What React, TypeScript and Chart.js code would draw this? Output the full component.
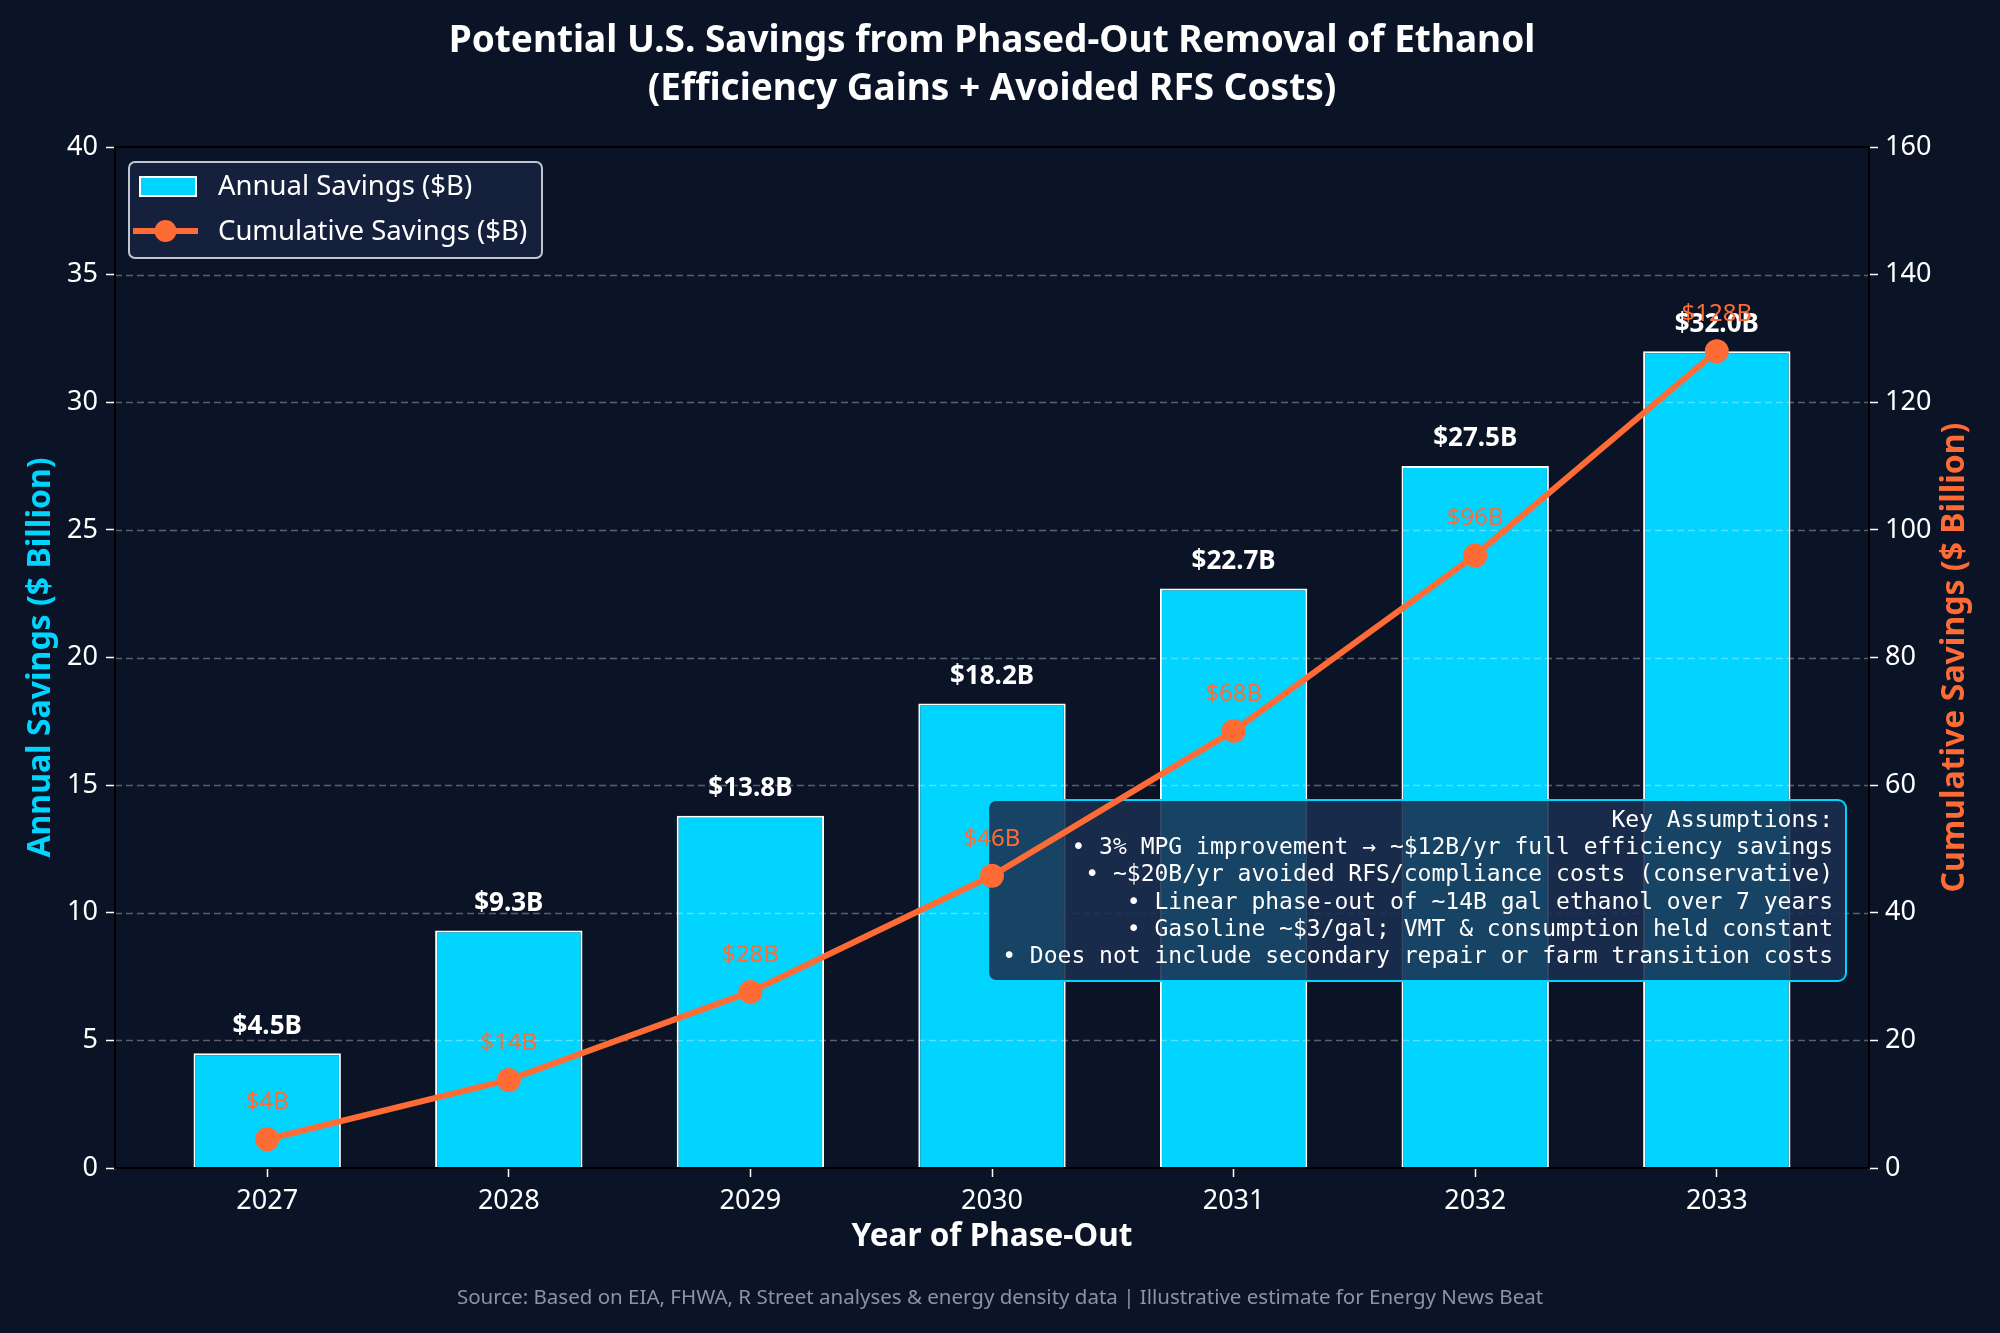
import { useEffect, useRef } from 'react';
import { Chart, registerables } from 'chart.js';

Chart.register(...registerables);

const W = 2000;
const H = 1333;
const BG = '#0b1426';
const CYAN = '#00d4ff';
const ORANGE = '#ff6b35';
const GRID = 'rgba(255,255,255,0.32)';
const FONT = '"Noto Sans", Lato, sans-serif';
const MONO = '"DejaVu Sans Mono", monospace';

const years = ['2027', '2028', '2029', '2030', '2031', '2032', '2033'];
const annualSavings = [4.5, 9.3, 13.8, 18.2, 22.7, 27.5, 32.0];
const cumulativeSavings = [4.5, 13.8, 27.6, 45.8, 68.5, 96.0, 128.0];
const cumulativeLabels = ['$4B', '$14B', '$28B', '$46B', '$68B', '$96B', '$128B'];
const assumptions = [
  'Key Assumptions:',
  '• 3% MPG improvement → ~$12B/yr full efficiency savings',
  '• ~$20B/yr avoided RFS/compliance costs (conservative)',
  '• Linear phase-out of ~14B gal ethanol over 7 years',
  '• Gasoline ~$3/gal; VMT & consumption held constant',
  '• Does not include secondary repair or farm transition costs',
];

const decorPlugin = {
  id: 'decor',
  beforeDraw(chart: any) {
    const { ctx } = chart;
    ctx.save();
    ctx.fillStyle = BG;
    ctx.fillRect(0, 0, chart.width, chart.height);
    ctx.restore();
  },
  afterDatasetDraw(chart: any, args: any) {
    if (args.meta.type !== 'bar') return;
    const { ctx, chartArea: a } = chart;
    const y = chart.scales.y;

    // dashed grid, drawn over the bars
    ctx.save();
    ctx.setLineDash([7, 4]);
    ctx.strokeStyle = GRID;
    ctx.lineWidth = 1.3;
    y.ticks.forEach((t: any) => {
      if (t.value <= y.min || t.value >= y.max) return;
      const py = Math.round(y.getPixelForValue(t.value)) + 0.5;
      ctx.beginPath();
      ctx.moveTo(a.left, py);
      ctx.lineTo(a.right, py);
      ctx.stroke();
    });
    ctx.restore();

    // bar value labels
    ctx.save();
    ctx.fillStyle = '#ffffff';
    ctx.font = `bold 26px ${FONT}`;
    ctx.textAlign = 'center';
    ctx.textBaseline = 'middle';
    args.meta.data.forEach((bar: any, i: number) => {
      ctx.fillText(`$${annualSavings[i].toFixed(1)}B`, bar.x, bar.y - 27);
    });
    ctx.restore();

    // assumptions box
    ctx.save();
    ctx.font = `23px ${MONO}`;
    const maxW = Math.max(...assumptions.map((s) => ctx.measureText(s).width));
    const textRight = a.right - 36;
    const bx = textRight - maxW - 14;
    const by = 800;
    const bw = a.right - 23 - bx;
    const bh = 181;
    ctx.beginPath();
    ctx.roundRect(bx, by, bw, bh, 8);
    ctx.fillStyle = 'rgba(26,47,80,0.88)';
    ctx.fill();
    ctx.lineWidth = 2;
    ctx.strokeStyle = CYAN;
    ctx.stroke();
    ctx.fillStyle = '#ffffff';
    ctx.textAlign = 'right';
    ctx.textBaseline = 'middle';
    assumptions.forEach((s, i) => {
      ctx.fillText(s, textRight, 821 + i * 27.2);
    });
    ctx.restore();
  },
  afterDatasetsDraw(chart: any) {
    const { ctx, chartArea: a } = chart;
    const lineMeta = chart.getDatasetMeta(1);

    // cumulative labels
    ctx.save();
    ctx.fillStyle = ORANGE;
    ctx.font = `24px ${FONT}`;
    ctx.textAlign = 'center';
    ctx.textBaseline = 'middle';
    lineMeta.data.forEach((pt: any, i: number) => {
      ctx.fillText(cumulativeLabels[i], pt.x, pt.y - 37);
    });
    ctx.restore();

    // spines
    ctx.save();
    ctx.strokeStyle = '#000000';
    ctx.lineWidth = 2;
    ctx.strokeRect(a.left, a.top, a.right - a.left, a.bottom - a.top);
    ctx.restore();

    // legend
    ctx.save();
    ctx.beginPath();
    ctx.roundRect(129, 162, 413, 96, 6);
    ctx.fillStyle = 'rgba(22,33,62,0.94)';
    ctx.fill();
    ctx.lineWidth = 2;
    ctx.strokeStyle = 'rgba(225,228,235,0.85)';
    ctx.stroke();
    ctx.fillStyle = CYAN;
    ctx.fillRect(140, 177, 56, 19);
    ctx.strokeStyle = '#ffffff';
    ctx.lineWidth = 2;
    ctx.strokeRect(140, 177, 56, 19);
    ctx.strokeStyle = ORANGE;
    ctx.lineWidth = 6;
    ctx.beginPath();
    ctx.moveTo(133, 231);
    ctx.lineTo(198, 231);
    ctx.stroke();
    ctx.fillStyle = ORANGE;
    ctx.beginPath();
    ctx.arc(165.5, 231, 11, 0, Math.PI * 2);
    ctx.fill();
    ctx.fillStyle = '#ffffff';
    ctx.font = `27.5px ${FONT}`;
    ctx.textAlign = 'left';
    ctx.textBaseline = 'middle';
    ctx.fillText('Annual Savings ($B)', 218, 187);
    ctx.fillText('Cumulative Savings ($B)', 218, 232);
    ctx.restore();
  },
  afterDraw(chart: any) {
    const { ctx, chartArea: a } = chart;
    const cx = (a.left + a.right) / 2;
    const cy = (a.top + a.bottom) / 2;
    ctx.save();
    ctx.textAlign = 'center';
    ctx.textBaseline = 'middle';
    ctx.fillStyle = '#ffffff';
    ctx.font = `bold 37px ${FONT}`;
    ctx.fillText('Potential U.S. Savings from Phased-Out Removal of Ethanol', cx, 41);
    ctx.fillText('(Efficiency Gains + Avoided RFS Costs)', cx, 89);

    ctx.font = `bold 31.5px ${FONT}`;
    ctx.fillText('Year of Phase-Out', cx, 1237);

    ctx.font = `bold 32px ${FONT}`;
    ctx.save();
    ctx.translate(41, cy);
    ctx.rotate(-Math.PI / 2);
    ctx.fillStyle = CYAN;
    ctx.fillText('Annual Savings ($ Billion)', 0, 0);
    ctx.restore();

    ctx.save();
    ctx.translate(1955, cy);
    ctx.rotate(-Math.PI / 2);
    ctx.fillStyle = ORANGE;
    ctx.fillText('Cumulative Savings ($ Billion)', 0, 0);
    ctx.restore();

    ctx.fillStyle = '#8a94a6';
    ctx.font = `20.5px ${FONT}`;
    ctx.fillText(
      'Source: Based on EIA, FHWA, R Street analyses & energy density data | Illustrative estimate for Energy News Beat',
      chart.width / 2,
      1298
    );
    ctx.restore();
  },
};

const tickFont = { family: FONT, size: 27 };

export default function App() {
  const canvasRef = useRef<HTMLCanvasElement>(null);
  const chartRef = useRef<Chart | null>(null);

  useEffect(() => {
    document.body.style.margin = '0';
    document.body.style.background = BG;
    if (!canvasRef.current) return;
    const ctx = canvasRef.current.getContext('2d');
    if (!ctx) return;

    if (chartRef.current) chartRef.current.destroy();

    chartRef.current = new Chart(ctx, {
      type: 'bar',
      data: {
        datasets: [
          {
            type: 'bar',
            label: 'Annual Savings ($B)',
            data: annualSavings.map((v, i) => ({ x: i, y: v })),
            backgroundColor: CYAN,
            borderColor: '#ffffff',
            borderWidth: 2,
            barPercentage: 0.61,
            categoryPercentage: 1,
            yAxisID: 'y',
            order: 1,
          },
          {
            type: 'line',
            label: 'Cumulative Savings ($B)',
            data: cumulativeSavings.map((v, i) => ({ x: i, y: v })),
            borderColor: ORANGE,
            borderWidth: 6,
            pointRadius: 12,
            pointBackgroundColor: ORANGE,
            pointBorderWidth: 0,
            fill: false,
            tension: 0,
            yAxisID: 'y2',
            order: 0,
          },
        ],
      } as any,
      options: {
        responsive: false,
        devicePixelRatio: 1,
        animation: false,
        layout: { padding: { top: 147, left: 0, right: 0, bottom: 0 } },
        plugins: {
          legend: { display: false },
          tooltip: { enabled: false },
        },
        scales: {
          x: {
            type: 'linear',
            min: -0.63,
            max: 6.63,
            offset: false,
            afterBuildTicks: (s: any) => {
              s.ticks = years.map((_, i) => ({ value: i }));
            },
            afterFit: (s: any) => {
              s.height = 165;
            },
            ticks: {
              color: '#ffffff',
              font: tickFont,
              padding: 8,
              maxRotation: 0,
              autoSkip: false,
              callback: (v: any) => years[v] ?? '',
            },
            grid: {
              offset: false,
              drawOnChartArea: false,
              drawTicks: true,
              tickLength: 9,
              tickColor: '#ffffff',
              tickWidth: 1.5,
              color: 'transparent',
            },
            border: { display: false },
          },
          y: {
            type: 'linear',
            position: 'left',
            min: 0,
            max: 40,
            afterFit: (s: any) => {
              s.width = 115;
            },
            ticks: { stepSize: 5, color: '#ffffff', font: tickFont, padding: 8 },
            grid: {
              drawOnChartArea: false,
              drawTicks: true,
              tickLength: 9,
              tickColor: '#ffffff',
              tickWidth: 1.5,
              color: 'transparent',
            },
            border: { display: false },
          },
          y2: {
            type: 'linear',
            position: 'right',
            min: 0,
            max: 160,
            afterFit: (s: any) => {
              s.width = W - 1869;
            },
            ticks: { stepSize: 20, color: '#ffffff', font: tickFont, padding: 7 },
            grid: {
              drawOnChartArea: false,
              drawTicks: true,
              tickLength: 9,
              tickColor: '#ffffff',
              tickWidth: 1.5,
              color: 'transparent',
            },
            border: { display: false },
          },
        },
      } as any,
      plugins: [decorPlugin as any],
    });

    return () => {
      if (chartRef.current) {
        chartRef.current.destroy();
        chartRef.current = null;
      }
    };
  }, []);

  return (
    <div style={{ width: W, height: H, background: BG }}>
      <canvas ref={canvasRef} width={W} height={H} style={{ display: 'block' }} />
    </div>
  );
}
